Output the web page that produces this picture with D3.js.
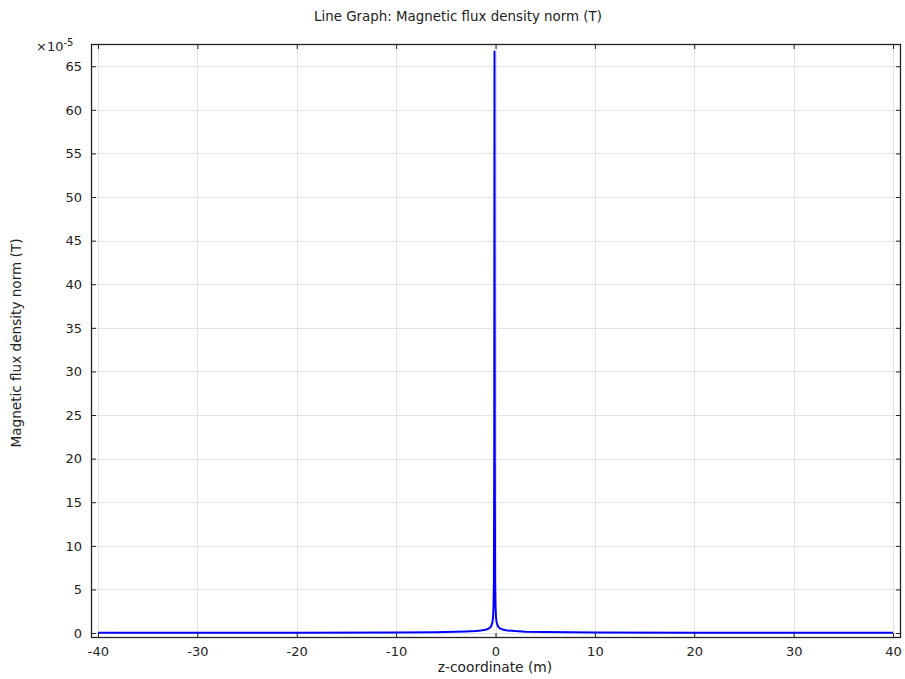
<!DOCTYPE html>
<html>
<head>
<meta charset="utf-8">
<script src="https://cdn.jsdelivr.net/npm/d3@7"></script>
<style>
  html, body { margin: 0; padding: 0; background: #fff; }
  svg text { font-family: "DejaVu Sans", sans-serif; fill: #222; }
</style>
</head>
<body>
<svg id="chart" width="905" height="679"></svg>
<script>
// z-coordinate along the line (m)
const zValues = [-40, -30, -20, -10, -6, -4, -3, -2, -1.5, -1, -0.7, -0.5, -0.4, -0.3, -0.25, -0.2, -0.16, -0.13, -0.1,
                 -0.07, -0.04, 0, 0.05, 0.1, 0.2, 0.3, 0.5, 0.8, 1.2, 2, 3, 5, 10, 20, 30, 40];
// Magnetic flux density norm, in units of 1e-5 T
const bValues = [0.02, 0.03, 0.04, 0.07, 0.1, 0.14, 0.18, 0.24, 0.3, 0.38, 0.5, 0.7, 0.9, 1.3, 1.8, 3, 6, 20, 66.7,
                 20, 6, 3, 1.8, 1.3, 0.9, 0.7, 0.5, 0.38, 0.3, 0.22, 0.16, 0.11, 0.06, 0.04, 0.03, 0.02];
const xTicks = [-40, -30, -20, -10, 0, 10, 20, 30, 40];
const yTicks = [0, 5, 10, 15, 20, 25, 30, 35, 40, 45, 50, 55, 60, 65];

const titleText = "Line Graph: Magnetic flux density norm (T)";
const xLabel = "z-coordinate (m)";
const yLabel = "Magnetic flux density norm (T)";

const svg = d3.select("#chart");
const plotL = 91, plotR = 901, plotT = 44, plotB = 638;

const x = d3.scaleLinear().domain([-40.7, 40.8]).range([plotL, plotR]);
const y = d3.scaleLinear().domain([-0.57, 67.55]).range([plotB, plotT]);

// grid
const grid = svg.append("g").attr("stroke", "#e3e3e3").attr("stroke-width", 1);
grid.selectAll("line.gx").data(xTicks).join("line").attr("class", "gx")
  .attr("x1", d => Math.round(x(d)) + 0.5).attr("x2", d => Math.round(x(d)) + 0.5)
  .attr("y1", plotT).attr("y2", plotB);
grid.selectAll("line.gy").data(yTicks).join("line").attr("class", "gy")
  .attr("y1", d => Math.round(y(d)) + 0.5).attr("y2", d => Math.round(y(d)) + 0.5)
  .attr("x1", plotL).attr("x2", plotR);

// data line
const line = d3.line().x((d, i) => x(zValues[i])).y(d => y(d));
svg.append("path").datum(bValues)
  .attr("d", line)
  .attr("fill", "none")
  .attr("stroke", "#0000ff")
  .attr("stroke-width", 2)
  .attr("stroke-linejoin", "round");

// axes with inward ticks on all four sides; plain hyphen for negatives
const tickLen = 5;
const fmt = d => String(d);
const axB = d3.axisBottom(x).tickValues(xTicks).tickSizeInner(-tickLen).tickSizeOuter(0).tickPadding(9).tickFormat(fmt);
const axT = d3.axisTop(x).tickValues(xTicks).tickSizeInner(-tickLen).tickSizeOuter(0).tickFormat("");
const axL = d3.axisLeft(y).tickValues(yTicks).tickSizeInner(-tickLen).tickSizeOuter(0).tickPadding(9).tickFormat(fmt);
const axR = d3.axisRight(y).tickValues(yTicks).tickSizeInner(-tickLen).tickSizeOuter(0).tickFormat("");

function style(g) {
  g.select(".domain").remove();
  g.selectAll(".tick line").attr("stroke", "#222");
  g.selectAll(".tick text").attr("font-size", 13).attr("fill", "#222")
    .attr("font-family", "DejaVu Sans, sans-serif");
}
svg.append("g").attr("transform", `translate(0,${plotB})`).call(axB).call(style);
svg.append("g").attr("transform", `translate(0,${plotT})`).call(axT).call(style);
svg.append("g").attr("transform", `translate(${plotL},0)`).call(axL).call(style);
svg.append("g").attr("transform", `translate(${plotR},0)`).call(axR).call(style);

// frame
svg.append("rect").attr("x", plotL + 0.5).attr("y", plotT + 0.5)
  .attr("width", plotR - plotL - 1).attr("height", plotB - plotT - 1)
  .attr("fill", "none").attr("stroke", "#222").attr("stroke-width", 1.3);

// multiplier
const mult = svg.append("text").attr("x", 36).attr("y", 51).attr("font-size", 13);
mult.append("tspan").text("×10");
mult.append("tspan").attr("dy", -5).attr("font-size", 10).text("-5");

// title and labels
svg.append("text").attr("x", 458).attr("y", 21).attr("text-anchor", "middle")
  .attr("font-size", 13.4).text(titleText);
svg.append("text").attr("x", 495).attr("y", 672).attr("text-anchor", "middle")
  .attr("font-size", 13.8).text(xLabel);
svg.append("text").attr("transform", `translate(21,${(plotT + plotB) / 2 + 2}) rotate(-90)`)
  .attr("text-anchor", "middle").attr("font-size", 13.6).text(yLabel);
</script>
</body>
</html>
